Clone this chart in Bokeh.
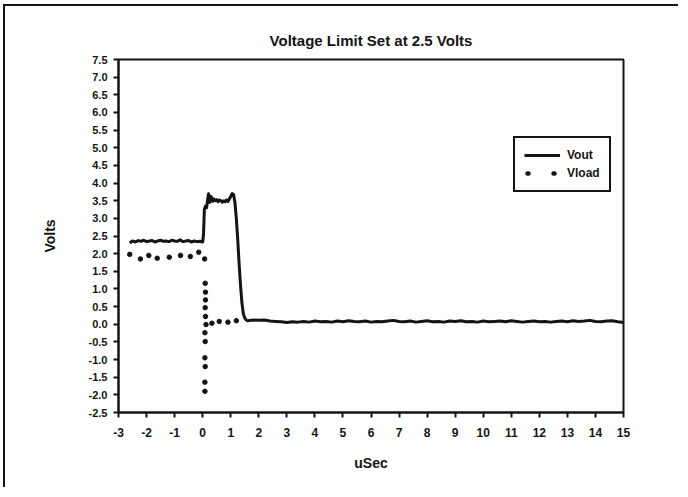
from bokeh.plotting import figure
from bokeh.models import Legend, LegendItem, FixedTicker, NumeralTickFormatter
from bokeh.embed import file_html
from bokeh.resources import INLINE

# ---- data ----
vout_x = [-2.6, -2.5, -2.4, -2.3, -2.2, -2.1, -2.0, -1.9, -1.8, -1.7, -1.6, -1.5, -1.4,
          -1.3, -1.2, -1.1, -1.0, -0.9, -0.8, -0.7, -0.6, -0.5, -0.4, -0.3, -0.2, -0.1, 0.0,
          0.03, 0.06, 0.10, 0.14, 0.18, 0.21, 0.25, 0.30, 0.35, 0.40, 0.45, 0.50, 0.55, 0.60,
          0.65, 0.70, 0.75, 0.80, 0.85, 0.90, 0.95, 1.00, 1.05, 1.10, 1.15, 1.20, 1.25, 1.30,
          1.35, 1.40, 1.45, 1.50, 1.55, 1.60,
          1.8, 2.0, 2.2, 2.4, 2.6, 2.8, 3.0, 3.2, 3.4, 3.6, 3.8, 4.0, 4.2, 4.4, 4.6, 4.8,
          5.0, 5.2, 5.4, 5.6, 5.8, 6.0, 6.2, 6.4, 6.6, 6.8, 7.0, 7.2, 7.4, 7.6, 7.8, 8.0,
          8.2, 8.4, 8.6, 8.8, 9.0, 9.2, 9.4, 9.6, 9.8, 10.0, 10.2, 10.4, 10.6, 10.8, 11.0,
          11.2, 11.4, 11.6, 11.8, 12.0, 12.2, 12.4, 12.6, 12.8, 13.0, 13.2, 13.4, 13.6, 13.8,
          14.0, 14.2, 14.4, 14.6, 14.8, 15.0]
vout_y = [2.30, 2.36, 2.33, 2.37, 2.35, 2.38, 2.34, 2.36, 2.37, 2.33, 2.36, 2.38, 2.35,
          2.36, 2.34, 2.38, 2.36, 2.35, 2.39, 2.34, 2.36, 2.37, 2.33, 2.36, 2.34, 2.35, 2.33,
          2.55, 3.25, 3.35, 3.30, 3.55, 3.70, 3.45, 3.62, 3.48, 3.55, 3.50, 3.53, 3.47, 3.52,
          3.50, 3.46, 3.50, 3.47, 3.52, 3.48, 3.55, 3.62, 3.70, 3.68, 3.45, 3.00, 2.40, 1.70,
          1.10, 0.60, 0.30, 0.18, 0.12, 0.10,
          0.12, 0.11, 0.12, 0.09, 0.08, 0.07, 0.05, 0.07, 0.06, 0.08, 0.06, 0.09, 0.07, 0.08,
          0.06, 0.09, 0.07, 0.10, 0.08, 0.07, 0.09, 0.06, 0.08, 0.07, 0.09, 0.11, 0.08, 0.07,
          0.09, 0.06, 0.08, 0.10, 0.07, 0.08, 0.06, 0.09, 0.08, 0.10, 0.07, 0.08, 0.06, 0.09,
          0.07, 0.08, 0.09, 0.07, 0.10, 0.08, 0.06, 0.08, 0.09, 0.07, 0.08, 0.06, 0.08, 0.09,
          0.07, 0.10, 0.08, 0.09, 0.11, 0.08, 0.07, 0.09, 0.10, 0.07, 0.05]

vload_x = [-2.60, -2.22, -1.92, -1.62, -1.19, -0.79, -0.44, -0.14, 0.07,
           0.09, 0.10, 0.10, 0.09, 0.10, 0.12, 0.08, 0.09, 0.08, 0.09, 0.08, 0.08,
           0.33, 0.59, 0.90, 1.20]
vload_y = [1.98, 1.85, 1.95, 1.87, 1.90, 1.95, 1.92, 2.04, 1.85,
           1.16, 0.91, 0.69, 0.47, 0.22, -0.01, -0.24, -0.49, -0.95, -1.20, -1.64, -1.90,
           0.03, 0.08, 0.06, 0.10]

x_ticks = [-3, -2, -1, 0, 1, 2, 3, 4, 5, 6, 7, 8, 9, 10, 11, 12, 13, 14, 15]
y_ticks = [-2.5, -2.0, -1.5, -1.0, -0.5, 0.0, 0.5, 1.0, 1.5, 2.0, 2.5, 3.0, 3.5,
           4.0, 4.5, 5.0, 5.5, 6.0, 6.5, 7.0, 7.5]

FONT = "Liberation Sans"
INK = "#141414"

p = figure(width=675, height=483, x_range=(-3, 15), y_range=(-2.5, 7.5),
           output_backend="svg", toolbar_location=None,
           min_border_left=113, min_border_right=57, min_border_top=53,
           min_border_bottom=77, title="Voltage Limit Set at 2.5 Volts")
p.styles = {"margin-left": "3px", "margin-top": "4px",
            "border-left": "2px solid #141414", "border-top": "2px solid #141414"}

p.title.align = "center"
p.title.text_font = FONT
p.title.text_font_size = "15px"
p.title.text_font_style = "bold"
p.title.text_color = INK
p.title.standoff = 21

p.grid.visible = False
p.outline_line_color = INK
p.outline_line_width = 2
p.outline_line_alpha = 1.0

for ax in (p.xaxis[0], p.yaxis[0]):
    ax.axis_line_width = 2
    ax.axis_line_color = INK
    ax.major_tick_line_width = 2
    ax.major_tick_line_color = INK
    ax.major_tick_out = 5
    ax.major_tick_in = 0
    ax.minor_tick_line_color = None
    ax.major_label_text_font = FONT
    ax.major_label_text_font_style = "bold"
    ax.major_label_text_color = INK
    ax.axis_label_text_font = FONT
    ax.axis_label_text_font_size = "14px"
    ax.axis_label_text_font_style = "bold"
    ax.axis_label_text_color = INK

p.xaxis.major_label_text_font_size = "12px"
p.yaxis.major_label_text_font_size = "11px"
p.xaxis.ticker = FixedTicker(ticks=x_ticks)
p.yaxis.ticker = FixedTicker(ticks=y_ticks)
p.xaxis.formatter = NumeralTickFormatter(format="0")
p.yaxis.formatter = NumeralTickFormatter(format="0.0")
p.xaxis.axis_label = "uSec"
p.yaxis.axis_label = "Volts"
p.xaxis.major_label_standoff = 10
p.yaxis.major_label_standoff = 6
p.xaxis.axis_label_standoff = 15
p.yaxis.axis_label_standoff = 28

r_out = p.line(vout_x, vout_y, line_width=3, line_color=INK, line_join="round")
p.scatter(vload_x, vload_y, size=4.5, fill_color=INK, line_color=INK)
# legend-only renderer (placed outside the visible range)
r_dummy = p.line([-20, -19], [-20, -20], line_width=4.5, line_color=INK,
                 line_dash="1 25", line_dash_offset=23, line_cap="round")

legend = Legend(items=[LegendItem(label="Vout", renderers=[r_out]),
                       LegendItem(label="Vload", renderers=[r_dummy])],
                location=(395, 220))
legend.border_line_color = INK
legend.border_line_width = 2
legend.border_line_alpha = 1.0
legend.background_fill_color = "white"
legend.background_fill_alpha = 1.0
legend.padding = 9
legend.spacing = 2
legend.margin = 0
legend.glyph_width = 36
legend.glyph_height = 16
legend.label_height = 16
legend.label_standoff = 7
legend.label_text_font = FONT
legend.label_text_font_size = "12px"
legend.label_text_font_style = "bold"
legend.label_text_color = INK
p.add_layout(legend, "center")

open("out.html", "w").write(file_html(p, INLINE))
